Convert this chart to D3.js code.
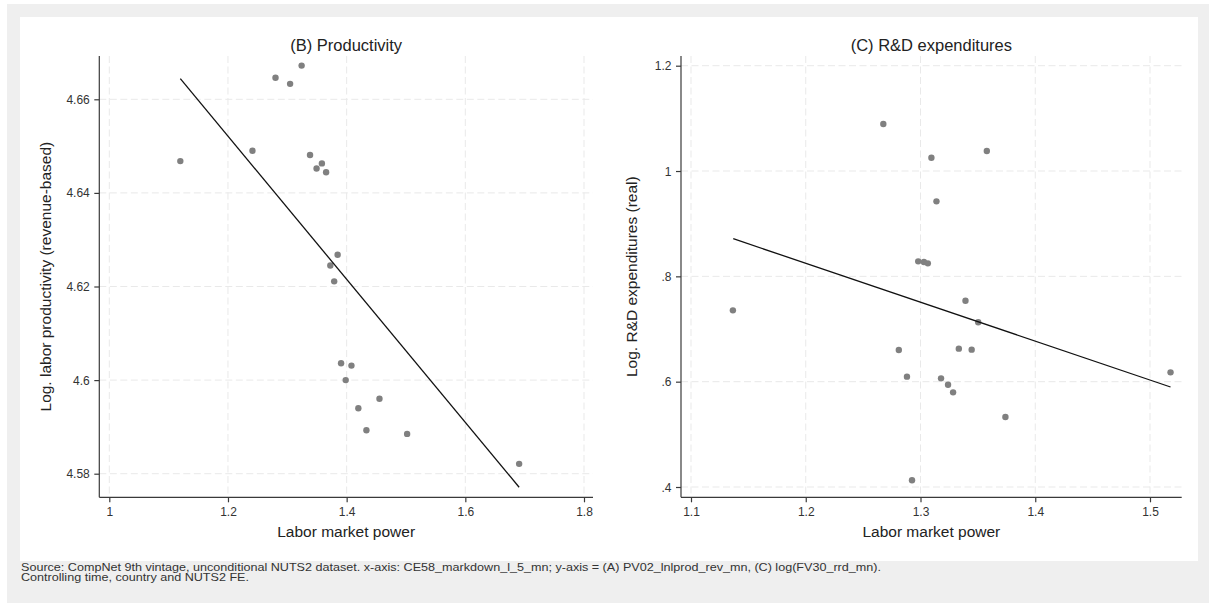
<!doctype html>
<html lang="en">
<head>
<meta charset="utf-8" />
<title>Labor market power — productivity and R&amp;D</title>
<style>
  html, body { margin: 0; padding: 0; background: #fff; }
  svg { display: block; font-family: "Liberation Sans", Arial, sans-serif; }
  .grid line { stroke: #e9e9e9; stroke-width: 1; stroke-dasharray: 7 3.5; }
  .axis path, .axis line { stroke: #3a3a3a; stroke-width: 1.2; }
  .axis text { fill: #333; font-size: 12px; font-family: "Liberation Sans", Arial, sans-serif; }
  .title { fill: #222; font-size: 16.5px; }
  .atitle { fill: #222; font-size: 15.5px; }
  .dot { fill: #808080; }
  .fit { stroke: #111; stroke-width: 1.3; fill: none; }
  .note { fill: #333; font-size: 10.8px; }
</style>
</head>
<body>
<svg id="chart" width="1209" height="603"></svg>
<script src="https://cdn.jsdelivr.net/npm/d3@7/dist/d3.min.js"></script>
<script>
// (B) Productivity — labor market power vs log labor productivity
const prodX = [1.1197, 1.2413, 1.2801, 1.3047, 1.3241, 1.3383, 1.3583, 1.3493, 1.3654, 1.3848,
  1.3725, 1.3790, 1.3906, 1.4081, 1.3984, 1.4553, 1.4197, 1.4333, 1.5019, 1.6907];
const prodY = [4.6468, 4.6490, 4.6646, 4.6633, 4.6672, 4.6481, 4.6463, 4.6452, 4.6444, 4.6268,
  4.6245, 4.6211, 4.6036, 4.6031, 4.6000, 4.5960, 4.5940, 4.5893, 4.5885, 4.5821];
const prodFitX = [1.1197, 1.6907];
const prodFitY = [4.6644, 4.5771];
const prodXTicks = [1, 1.2, 1.4, 1.6, 1.8];
const prodYTicks = [4.58, 4.6, 4.62, 4.64, 4.66];

// (C) R&D expenditures
const rdX = [1.2676, 1.3095, 1.3578, 1.3139, 1.2980, 1.3030, 1.3064, 1.3392, 1.1365, 1.3503,
  1.2811, 1.3334, 1.3446, 1.2882, 1.3179, 1.3240, 1.3284, 1.3740, 1.2926, 1.5179];
const rdY = [1.0892, 1.0253, 1.0380, 0.9424, 0.8285, 0.8272, 0.8247, 0.7538, 0.7354, 0.7127,
  0.6601, 0.6627, 0.6608, 0.6095, 0.6063, 0.5943, 0.5797, 0.5329, 0.4127, 0.6177];
const rdFitX = [1.1368, 1.5179];
const rdFitY = [0.8715, 0.5899];
const rdXTicks = [1.1, 1.2, 1.3, 1.4, 1.5];
const rdYTicks = [0.4, 0.6, 0.8, 1, 1.2];

const noteLines = [
  'Source: CompNet 9th vintage, unconditional NUTS2 dataset. x-axis: CE58_markdown_l_5_mn; y-axis = (A)  PV02_lnlprod_rev_mn, (C) log(FV30_rrd_mn).',
  'Controlling time, country and NUTS2 FE.',
];

// Stata-style labels: drop the leading zero
const stataFmt = v => String(+v.toFixed(3)).replace(/^0\./, '.');

const svg = d3.select('#chart');

// outer gray region and white plot region
svg.append('rect').attr('x', 7).attr('y', 4).attr('width', 1202).attr('height', 599).attr('fill', '#efefef');
svg.append('rect').attr('x', 20).attr('y', 17).attr('width', 1178).attr('height', 544).attr('fill', '#fff');

const panels = [
  {
    title: '(B) Productivity', ytitle: 'Log. labor productivity (revenue-based)',
    xs: prodX, ys: prodY, fx: prodFitX, fy: prodFitY, xt: prodXTicks, yt: prodYTicks,
    left: 99.3, right: 593, top: 56, bottom: 497.3,
    x: d3.scaleLinear().domain([1, 1.8]).range([109.3, 584]),
    y: d3.scaleLinear().domain([4.58, 4.66]).range([473.7, 99.3]),
    ytitleX: 51,
  },
  {
    title: '(C) R&D expenditures', ytitle: 'Log. R&D expenditures (real)',
    xs: rdX, ys: rdY, fx: rdFitX, fy: rdFitY, xt: rdXTicks, yt: rdYTicks,
    left: 681, right: 1181.7, top: 56, bottom: 497.3,
    x: d3.scaleLinear().domain([1.1, 1.5]).range([691, 1150]),
    y: d3.scaleLinear().domain([0.4, 1.2]).range([487, 65.7]),
    ytitleX: 636.5,
  },
];

for (const p of panels) {
  const g = svg.append('g');
  const cx = (p.left + p.right) / 2;
  const cy = (p.top + p.bottom) / 2;

  // dashed grid
  const grid = g.append('g').attr('class', 'grid');
  grid.selectAll('line.h').data(p.yt).join('line').attr('class', 'h')
    .attr('x1', p.left).attr('x2', p.right)
    .attr('y1', d => p.y(d)).attr('y2', d => p.y(d));
  grid.selectAll('line.v').data(p.xt).join('line').attr('class', 'v')
    .attr('y1', p.top).attr('y2', p.bottom)
    .attr('x1', d => p.x(d)).attr('x2', d => p.x(d));

  // axes (domain line spans the whole plot region)
  const xAxis = g.append('g').attr('class', 'axis').attr('transform', `translate(0,${p.bottom})`)
    .call(d3.axisBottom(p.x).tickValues(p.xt).tickFormat(stataFmt).tickSize(5).tickSizeOuter(0));
  xAxis.select('.domain').attr('d', `M${p.left},0H${p.right}`);
  xAxis.selectAll('text').attr('dy', null).attr('y', 18.3);

  const yAxis = g.append('g').attr('class', 'axis').attr('transform', `translate(${p.left},0)`)
    .call(d3.axisLeft(p.y).tickValues(p.yt).tickFormat(stataFmt).tickSize(5).tickSizeOuter(0));
  yAxis.select('.domain').attr('d', `M0,${p.top}V${p.bottom}`);
  yAxis.selectAll('text').attr('x', -9.5).attr('dy', '0.34em');

  // points
  g.selectAll('circle').data(d3.range(p.xs.length)).join('circle')
    .attr('class', 'dot')
    .attr('cx', i => p.x(p.xs[i])).attr('cy', i => p.y(p.ys[i])).attr('r', 3.2);

  // fitted line
  g.append('path').attr('class', 'fit')
    .attr('d', d3.line().x(i => p.x(p.fx[i])).y(i => p.y(p.fy[i]))([0, 1]));

  // titles
  g.append('text').attr('class', 'title').attr('x', cx).attr('y', 50.5)
    .attr('text-anchor', 'middle').text(p.title);
  g.append('text').attr('class', 'atitle').attr('x', cx).attr('y', 537)
    .attr('text-anchor', 'middle').text('Labor market power');
  g.append('text').attr('class', 'atitle')
    .attr('transform', `translate(${p.ytitleX},${cy}) rotate(-90)`)
    .attr('text-anchor', 'middle').text(p.ytitle);
}

// footnote: the original uses a wider face, so stretch the lines horizontally
const notes = svg.append('g').selectAll('text').data(noteLines).join('text')
  .attr('class', 'note').text(d => d);
const stretch = 861 / notes.node().getComputedTextLength();
notes.attr('transform', (d, i) => `translate(21,${570.6 + i * 10.8}) scale(${stretch},1)`);
</script>
</body>
</html>
